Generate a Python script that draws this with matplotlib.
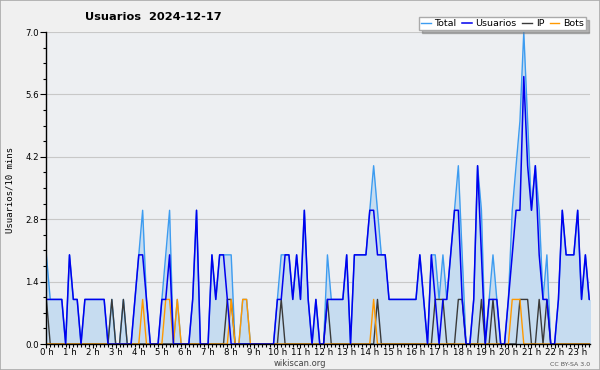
import matplotlib
matplotlib.use("Agg")
import numpy as np
import matplotlib.pyplot as plt
from matplotlib.patches import Rectangle
from matplotlib.ticker import MultipleLocator

# --------------------- Data (one value per 10 minutes, 0h00 .. 23h50) ---------------------
usuarios = [1, 1, 1, 1, 1, 0,  2, 1, 1, 0, 1, 1,  1, 1, 1, 1, 0, 0,  0, 0, 0, 0, 0, 1,
            2, 2, 1, 0, 0, 0,  1, 1, 2, 0, 0, 0,  0, 0, 1, 3, 0, 0,  0, 2, 1, 2, 2, 1,
            0, 0, 0, 0, 0, 0,  0, 0, 0, 0, 0, 0,  1, 1, 2, 2, 1, 2,  1, 3, 1, 0, 1, 0,
            0, 1, 1, 1, 1, 1,  2, 0, 2, 2, 2, 2,  3, 3, 2, 2, 2, 1,  1, 1, 1, 1, 1, 1,
            1, 2, 1, 0, 2, 1,  0, 1, 1, 2, 3, 3,  1, 0, 0, 1, 4, 2,  0, 1, 1, 1, 0, 0,
            1, 2, 3, 3, 6, 4,  3, 4, 2, 1, 1, 0,  0, 1, 3, 2, 2, 2,  3, 1, 2, 1, 1, 1]

ip = [1, 0, 0, 0, 0, 0,  0, 0, 0, 0, 0, 0,  0, 0, 0, 0, 0, 1,  0, 0, 1, 0, 0, 0,
      0, 0, 0, 0, 0, 0,  0, 0, 0, 0, 0, 0,  0, 0, 0, 0, 0, 0,  0, 0, 0, 0, 0, 1,
      1, 0, 0, 0, 0, 0,  0, 0, 0, 0, 0, 0,  0, 1, 0, 0, 0, 0,  0, 0, 0, 0, 0, 0,
      0, 1, 0, 0, 0, 0,  0, 0, 0, 0, 0, 0,  0, 0, 1, 0, 0, 0,  0, 0, 0, 0, 0, 0,
      0, 0, 0, 0, 0, 1,  1, 1, 0, 0, 0, 1,  1, 0, 0, 0, 0, 1,  0, 0, 1, 0, 0, 0,
      0, 0, 0, 1, 1, 1,  0, 0, 1, 0, 1, 0,  0, 0, 0, 0, 0, 0,  0, 0, 0, 0, 0, 0]

bots = [0, 0, 0, 0, 0, 0,  0, 0, 0, 0, 0, 0,  0, 0, 0, 0, 0, 0,  0, 0, 0, 0, 0, 0,
        0, 1, 0, 0, 0, 0,  0, 1, 1, 0, 1, 0,  0, 0, 0, 0, 0, 0,  0, 0, 0, 0, 0, 0,
        1, 0, 0, 1, 1, 0,  0, 0, 0, 0, 0, 0,  0, 0, 0, 0, 0, 0,  0, 0, 0, 0, 0, 0,
        0, 0, 0, 0, 0, 0,  0, 0, 0, 0, 0, 0,  0, 1, 0, 0, 0, 0,  0, 0, 0, 0, 0, 0,
        0, 0, 0, 0, 0, 0,  0, 0, 0, 0, 0, 0,  0, 0, 0, 0, 0, 0,  0, 0, 0, 0, 0, 0,
        0, 1, 1, 1, 0, 0,  0, 0, 0, 0, 0, 0,  0, 0, 0, 0, 0, 0,  0, 0, 0, 0, 0, 0]

total = [2, 1, 1, 1, 1, 0,  2, 1, 1, 0, 1, 1,  1, 1, 1, 1, 0, 1,  0, 0, 1, 0, 0, 1,
         2, 3, 1, 0, 0, 0,  1, 2, 3, 0, 1, 0,  0, 0, 1, 3, 0, 0,  0, 2, 1, 2, 2, 2,
         2, 0, 0, 1, 1, 0,  0, 0, 0, 0, 0, 0,  1, 2, 2, 2, 1, 2,  1, 3, 1, 0, 1, 0,
         0, 2, 1, 1, 1, 1,  2, 0, 2, 2, 2, 2,  3, 4, 3, 2, 2, 1,  1, 1, 1, 1, 1, 1,
         1, 2, 1, 0, 2, 2,  1, 2, 1, 2, 3, 4,  2, 0, 0, 1, 4, 3,  0, 1, 2, 1, 0, 0,
         1, 3, 4, 5, 7, 5,  3, 4, 3, 1, 2, 0,  0, 1, 3, 2, 2, 2,  3, 1, 2, 1, 1, 1]

hour_labels = [f"{h} h" for h in range(24)]
y_ticks = [0.0, 1.4, 2.8, 4.2, 5.6, 7.0]

slots = np.arange(len(total))

# --------------------- Plot ---------------------
fig = plt.figure(figsize=(6, 3.7), dpi=100, facecolor="#f0f0f0")
ax = fig.add_axes([46 / 600, 26 / 370, 544 / 600, 312 / 370])
ax.set_facecolor("#edeff2")

ax.fill_between(slots, total, 0, color="#c6dcf0", lw=0, zorder=1)
l_total, = ax.plot(slots, total, color="#3d9cf0", lw=1.0, zorder=2, label="Total")
l_ip, = ax.plot(slots, ip, color="#3a3a3a", lw=1.0, zorder=3, label="IP")
l_bots, = ax.plot(slots, bots, color="#ff9900", lw=1.0, zorder=4, label="Bots")
l_users, = ax.plot(slots, usuarios, color="#0000ee", lw=1.1, zorder=5, label="Usuarios")

ax.set_xlim(-0.1, 141.2)
ax.set_ylim(0, 7)

ax.set_xticks(range(0, 144, 6), hour_labels)
ax.xaxis.set_minor_locator(MultipleLocator(1))
ax.set_yticks(y_ticks, [f"{v:.1f}" for v in y_ticks])
ax.yaxis.set_minor_locator(MultipleLocator(0.35))

ax.tick_params(axis="x", which="major", length=3, width=0.8, labelsize=6.2, pad=0)
ax.tick_params(axis="x", which="minor", length=2.5, width=0.8)
ax.tick_params(axis="y", which="major", length=4, width=0.8, labelsize=6.2, pad=1)
ax.tick_params(axis="y", which="minor", length=2.5, width=0.8)

ax.grid(axis="y", which="major", color="#c8c8c8", lw=0.8, zorder=0)
ax.set_axisbelow(True)
for side in ("top", "right"):
    ax.spines[side].set_visible(False)
for side in ("left", "bottom"):
    ax.spines[side].set_linewidth(1.0)
    ax.spines[side].set_zorder(6)

# --------------------- Texts ---------------------
fig.text(85 / 600, 1 - 17 / 370, "Usuarios  2024-12-17", fontsize=8.2,
         fontweight="bold", ha="left", va="center")
fig.text(10 / 600, 1 - 190 / 370, "Usuarios/10 mins", rotation=90,
         family="DejaVu Sans Mono", fontsize=6.5, ha="center", va="center")
fig.text(300 / 600, 1 - 363.5 / 370, "wikiscan.org", fontsize=6,
         color="#444444", ha="center", va="center")
fig.text(590 / 600, 1 - 364 / 370, "CC BY-SA 3.0", fontsize=4.5,
         color="#555555", ha="right", va="center")

fig.legend([l_total, l_users, l_ip, l_bots], ["Total", "Usuarios", "IP", "Bots"],
           loc="upper right", bbox_to_anchor=(591 / 600, 1 - 12 / 370), ncol=4,
           fontsize=6.8, frameon=True, fancybox=False, framealpha=1,
           facecolor="white", edgecolor="#aaaaaa", shadow={"color": "#777777"},
           borderpad=0.25, handlelength=1.0, handletextpad=0.4, columnspacing=0.6)

fig.patches.append(Rectangle((0, 0), 1, 1, transform=fig.transFigure,
                             fill=False, ec="#aaaaaa", lw=1.2))

fig.savefig("out.png", dpi=100, facecolor=fig.get_facecolor())
